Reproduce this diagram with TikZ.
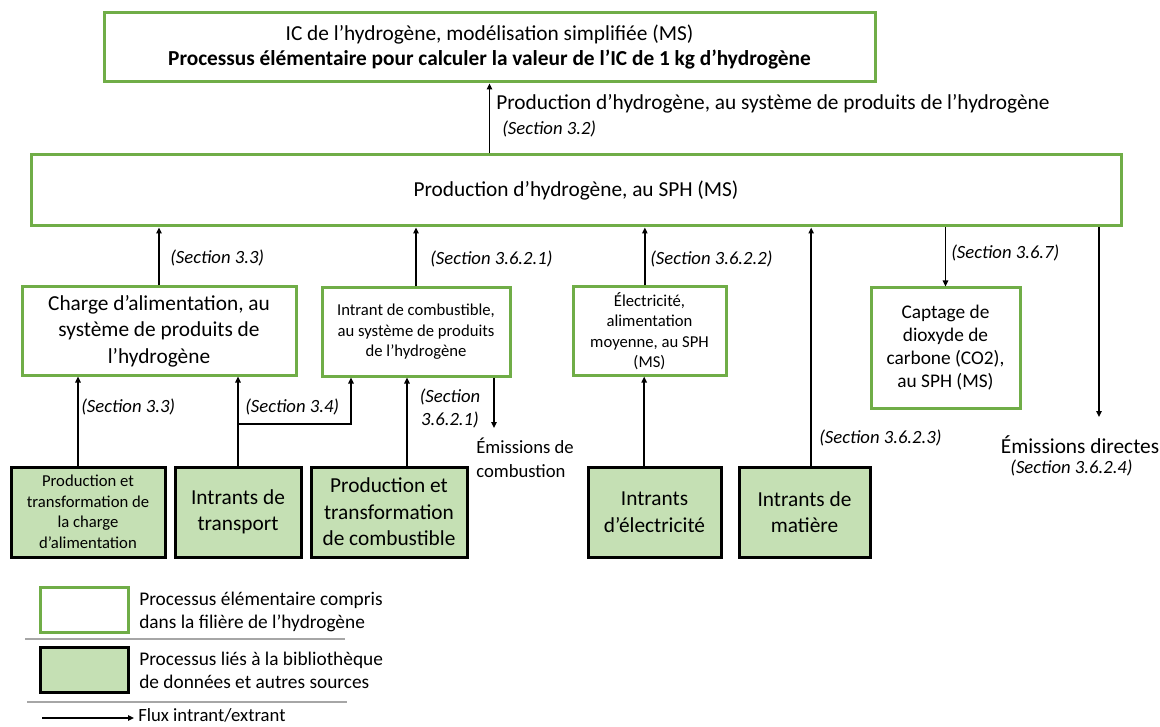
\documentclass[tikz,border=0pt]{standalone}
\usepackage{fontspec}
\setmainfont{Carlito}
\usetikzlibrary{arrows.meta}

\definecolor{hgreen}{HTML}{70AD47}
\definecolor{hfill}{HTML}{C5E0B4}
\definecolor{sepgray}{HTML}{A6A6A6}

\tikzset{
	procbox/.style={draw=hgreen, line width=2.25pt, fill=white, align=center, inner sep=0pt},
	libbox/.style={draw=black, line width=2.25pt, fill=hfill, align=center, inner sep=0pt},
	flux/.style={-{Triangle[length=4.5pt,width=4pt]}, line width=1.1pt},
	bigtxt/.style={font=\fontsize{16}{19.9}\selectfont},
	midtxt/.style={font=\fontsize{14.5}{17.25}\selectfont},
	smalltxt/.style={font=\fontsize{12.5}{15.4}\selectfont},
	seclbl/.style={font=\fontsize{14}{17.25}\selectfont\itshape, inner sep=0pt, anchor=west},
}

\begin{document}
\begin{tikzpicture}[x=0.75pt,y=-0.75pt]

		\useasboundingbox (0,0) rectangle (1160,727);

		\node[procbox, minimum width=578.25pt, minimum height=51.75pt, font=\fontsize{16}{18.75}\selectfont] (top) at (489.5, 47.5) {IC de l’hydrogène, modélisation simplifiée (MS)\\\textbf{Processus élémentaire pour calculer la valeur de l’IC de 1 kg d’hydrogène}};
		\node[procbox, bigtxt, minimum width=817.5pt, minimum height=53.25pt] (sph) at (576, 190.5) {Production d’hydrogène, au SPH (MS)};

		\node[procbox, bigtxt, minimum width=205.5pt, minimum height=66pt] (charge) at (159, 331) {Charge d’alimentation, au\\système de produits de\\l’hydrogène};
		\node[procbox, smalltxt, minimum width=141pt, minimum height=66pt] (combust) at (416, 332) {Intrant de combustible,\\au système de produits\\de l’hydrogène};
		\node[procbox, smalltxt, minimum width=114.75pt, minimum height=66pt] (elec) at (649.5, 331) {Électricité,\\alimentation\\moyenne, au SPH\\(MS)};
		\node[procbox, midtxt, minimum width=111.75pt, minimum height=90pt] (captage) at (945.5, 348) {Captage de\\dioxyde de\\carbone (CO2),\\au SPH (MS)};

		\node[libbox, smalltxt, minimum width=115.5pt, minimum height=67.5pt] (prodcharge) at (88, 512) {Production et\\transformation de\\la charge\\d’alimentation};
		\node[libbox, bigtxt, minimum width=94.5pt, minimum height=67.5pt] (transport) at (238, 512) {Intrants de\\transport};
		\node[libbox, bigtxt, minimum width=117pt, minimum height=67.5pt] (prodcomb) at (389, 512) {Production et\\transformation\\de combustible};
		\node[libbox, bigtxt, minimum width=99.75pt, minimum height=67.5pt] (intelec) at (654.5, 512) {Intrants\\d’électricité};
		\node[libbox, bigtxt, minimum width=98.25pt, minimum height=67.5pt] (matiere) at (804.5, 512) {Intrants de\\matière};

		\node[bigtxt, inner sep=0pt, anchor=west] (lbl32) at (496, 104) {Production d’hydrogène, au système de produits de l’hydrogène};
		\node[seclbl] (sec32) at (502, 129) {(Section 3.2)};
		\node[seclbl] (sec33a) at (170, 258) {(Section 3.3)};
		\node[seclbl] (sec3621a) at (430, 259) {(Section 3.6.2.1)};
		\node[seclbl] (sec3622) at (650, 259) {(Section 3.6.2.2)};
		\node[seclbl] (sec367) at (951, 253) {(Section 3.6.7)};
		\node[seclbl] (sec3623) at (819, 438) {(Section 3.6.2.3)};
		\node[seclbl] (sec33b) at (81, 407) {(Section 3.3)};
		\node[seclbl] (sec34) at (245, 407) {(Section 3.4)};
		\node[seclbl, anchor=center, align=center] (sec3621b) at (450, 408.5) {(Section\\3.6.2.1)};

		\node[font=\fontsize{14}{18}\selectfont, inner sep=0pt, anchor=west, align=left] (emcomb) at (476, 458) {Émissions de\\combustion};
		\node[bigtxt, inner sep=0pt] (emdir) at (1080, 445) {Émissions directes};
		\node[seclbl, anchor=center] (sec3624) at (1071.5, 468) {(Section 3.6.2.4)};

		\coordinate (emcombpt) at (494, 428);
		\coordinate (emdirpt) at (1099, 417);
		\coordinate (tbranch) at (237, 424);
		\coordinate (tend) at (351, 424);

		\draw[flux] (top.south |- sph.north) -- (top.south);
		\draw[flux] (charge.north) -- (charge.north |- sph.south);
		\draw[flux] (combust.north) -- (combust.north |- sph.south);
		\draw[flux] ([xshift=-3.5pt]elec.north) -- ([xshift=-3.5pt]elec.north |- sph.south);
		\draw[flux] ([xshift=5pt]matiere.north) -- ([xshift=5pt]matiere.north |- sph.south);
		\draw[flux] (sph.south -| captage.north) -- (captage.north);
		\draw[flux] (sph.south -| emdirpt) -- (emdirpt);

		\draw[flux] ([xshift=-7.5pt]prodcharge.north) -- ([xshift=-7.5pt]prodcharge.north |- charge.south);
		\draw[flux] (transport.north) -- (transport.north |- charge.south);
		\draw[flux] (tbranch) -| (tend |- combust.south);
		\draw[flux] ([xshift=13.5pt]prodcomb.north) -- ([xshift=13.5pt]prodcomb.north |- combust.south);
		\draw[flux] (emcombpt |- combust.south) -- (emcombpt);
		\draw[flux] ([xshift=-4pt]elec.south |- intelec.north) -- ([xshift=-4pt]elec.south);

		\node[procbox, minimum width=66pt, minimum height=33.75pt] (legproc) at (84, 609.5) {};
		\node[midtxt, inner sep=0pt, anchor=west, align=left] (legproctxt) at (139, 611.5) {Processus élémentaire compris\\dans la filière de l’hydrogène};
		\node[libbox, minimum width=66pt, minimum height=33.75pt] (leglib) at (84, 669.5) {};
		\node[midtxt, inner sep=0pt, anchor=west, align=left] (leglibtxt) at (139, 670) {Processus liés à la bibliothèque\\de données et autres sources};
		\node[font=\fontsize{14}{17}\selectfont, inner sep=0pt, anchor=west] (legflux) at (138, 715.5) {Flux intrant/extrant};

		\coordinate (sepa) at (25, 639);
		\coordinate (sepb) at (345, 639);
		\coordinate (sepc) at (27, 702);
		\coordinate (sepd) at (347, 702);
		\coordinate (fluxpt) at (42, 718);

		\draw[sepgray, line width=0.9pt] (sepa) -- (sepb);
		\draw[sepgray, line width=0.9pt] (sepc) -- (sepd);
		\draw[flux] (fluxpt) -- ([xshift=-3pt]legflux.west |- fluxpt);

	\end{tikzpicture}
\end{document}
